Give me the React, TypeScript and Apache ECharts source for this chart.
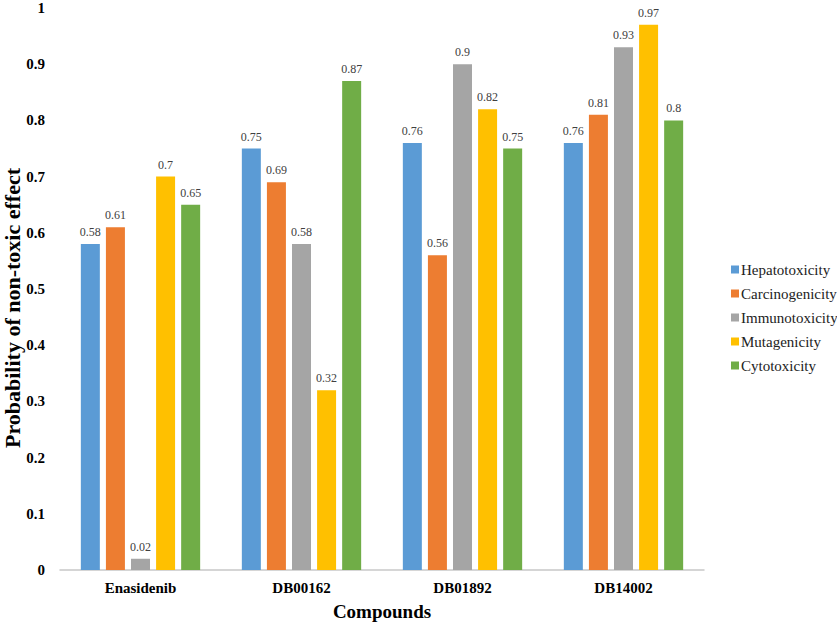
import React, { useEffect, useRef } from "react";
import * as echarts from "echarts";

const categories = ["Enasidenib", "DB00162", "DB01892", "DB14002"];
const seriesNames = ["Hepatotoxicity", "Carcinogenicity", "Immunotoxicity", "Mutagenicity", "Cytotoxicity"];
const hepatotoxicity = [0.58, 0.75, 0.76, 0.76];
const carcinogenicity = [0.61, 0.69, 0.56, 0.81];
const immunotoxicity = [0.02, 0.58, 0.9, 0.93];
const mutagenicity = [0.7, 0.32, 0.82, 0.97];
const cytotoxicity = [0.65, 0.87, 0.75, 0.8];
const colors = ["#5B9BD5", "#ED7D31", "#A5A5A5", "#FFC000", "#70AD47"];
const yTitle = "Probability of non-toxic effect";
const xTitle = "Compounds";

const FONT = "Liberation Serif";

export default function App() {
  const ref = useRef<HTMLDivElement>(null);
  useEffect(() => {
    if (!ref.current) return;
    const chart = echarts.init(ref.current, undefined, { renderer: "svg" });
    const values = [hepatotoxicity, carcinogenicity, immunotoxicity, mutagenicity, cytotoxicity];
    chart.setOption({
      animation: false,
      backgroundColor: "#ffffff",
      textStyle: { fontFamily: FONT },
      grid: { left: 60, right: 133, top: 8, bottom: 54, containLabel: false, outerBoundsMode: "none" },
      graphic: [
        {
          type: "text",
          x: 12,
          y: 308,
          rotation: Math.PI / 2,
          style: {
            text: yTitle,
            font: "bold 22px Liberation Serif",
            fill: "#000",
            align: "center",
            verticalAlign: "middle",
          },
        },
      ],
      legend: {
        orient: "vertical",
        left: 726,
        top: 257,
        itemWidth: 8,
        itemHeight: 8,
        itemGap: 9,
        icon: "rect",
        textStyle: { fontFamily: FONT, fontSize: 15, color: "#222", padding: [0, 0, 0, -3] },
        data: seriesNames,
      },
      xAxis: {
        type: "category",
        data: categories,
        name: xTitle,
        nameLocation: "middle",
        nameGap: 32,
        nameTextStyle: { fontFamily: FONT, fontSize: 19, fontWeight: "bold", color: "#000" },
        axisLine: { show: true, lineStyle: { color: "#c8c8c8", width: 1.5 } },
        axisTick: { show: false },
        axisLabel: { fontFamily: FONT, fontSize: 15, fontWeight: "bold", color: "#000", margin: 10 },
      },
      yAxis: {
        type: "value",
        min: 0,
        max: 1,
        interval: 0.1,
        axisLine: { show: false },
        axisTick: { show: false },
        splitLine: { show: false },
        axisLabel: { fontFamily: FONT, fontSize: 15, fontWeight: "bold", color: "#000", margin: 15 },
      },
      series: seriesNames.map((name, i) => ({
        name,
        type: "bar",
        data: values[i],
        barWidth: 19,
        barGap: "32%",
        itemStyle: { color: colors[i] },
        label: {
          show: true,
          position: "top",
          distance: 6,
          fontFamily: FONT,
          fontSize: 12,
          color: "#404040",
        },
      })),
    });
    return () => chart.dispose();
  }, []);
  return (
    <div
      ref={ref}
      style={{ position: "absolute", left: 0, top: 0, width: 837, height: 624 }}
    />
  );
}
